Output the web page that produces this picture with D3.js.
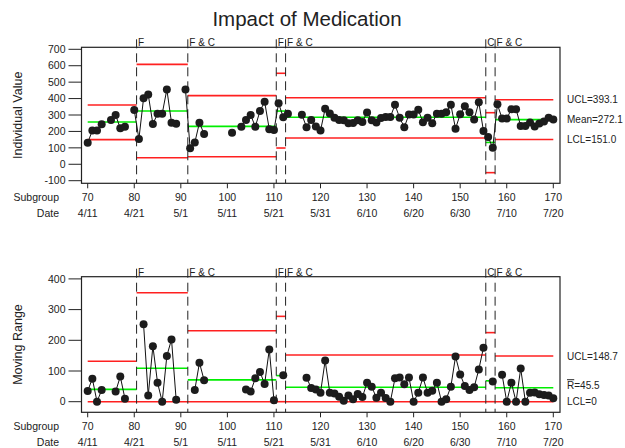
<!DOCTYPE html>
<html lang="en">
<head>
<meta charset="utf-8">
<script src="https://d3js.org/d3.v7.min.js"></script>
<style>
  body {margin:0; background:#fff;}
  text {font-family: "Liberation Sans", Arial, sans-serif; fill:#222;}
</style>
</head>
<body>
<script>

// subgroups 70..170, null where no observation
var subgroups = d3.range(70, 171);
var indValues = [
  131, 205, 205, 243, null, 269, 300, 219, 229, null,   // 70-79
  330, 154, 402, 425, 245, 307, 307, 456, 253, 247,     // 80-89
  null, 456, 97, 132, 253, 184, null, null, null, null, // 90-99
  null, 192, null, 229, 270, 300, 229, 324, 381, 213,   // 100-109
  208, 371, 286, 308, null, null, 302, 226, 270, 230,   // 110-119
  205, 338, 309, 283, 270, 268, 250, 252, 268, 258,     // 120-129
  315, 268, 255, 282, 288, 288, 362, 283, 226, 303,     // 130-139
  303, 332, 256, 283, 250, 308, 308, 316, 362, 217,     // 140-149
  304, 354, 317, 272, 378, 203, 166, 100, 365, 278,     // 150-159
  278, 335, 335, 233, 233, 255, 230, 248, 260, 283,     // 160-169
  272                                                   // 170
];
var mrValues = [
  35, 75, 0, 38, null, null, 33, 82, 10, null,          // 70-79
  null, null, 252, 20, 181, 62, 0, 149, 203, 6,         // 80-89
  null, null, null, 38, 127, 70, null, null, null, null,// 90-99
  null, null, null, null, 40, 33, 76, 97, 58, 170,      // 100-109
  5, null, 86, null, null, null, null, 78, 45, 40,      // 110-119
  29, 134, 29, 27, 16, 3, 20, 8, 25, 15,                // 120-129
  62, 49, 13, 29, 12, 0, 76, 79, 57, 79,                // 130-139
  0, 29, 79, 29, 36, 62, 0, 8, 49, 147,                 // 140-149
  89, 51, 38, 47, 105, 176, null, 66, null, 88,         // 150-159
  0, 62, 0, 108, 0, 29, 30, 24, 22, 20,                 // 160-169
  11                                                    // 170
];

// stages
var stageStart = [70, 80.5, 91.5, 110.5, 112.5, 155.5, 157.5];
var stageEnd   = [80.5, 91.5, 110.5, 112.5, 155.5, 157.5, 170];
var indMean = [257, 324, 231, 324, 286, 133, 272.1];
var indUCL  = [361, 608, 418, 554, 405, 314, 393.1];
var indLCL  = [150, 40, 46, 99, 160, -51, 151.0];
var mrMean  = [40, 109, 71, 85, 47, 68, 45.5];
var mrUCL   = [132, 355, 231, 278, 152, 225, 148.7];
var mrLCL   = [0, 0, 0, 0, 0, 0, 0];
var stageLabels = ["F", "F & C", "F", "F & C", "C", "F & C"];

var xTicks = [70, 80, 90, 100, 110, 120, 130, 140, 150, 160, 170];
var dateLabels = ["4/11", "4/21", "5/1", "5/11", "5/21", "5/31", "6/10", "6/20", "6/30", "7/10", "7/20"];
var indTicks = [-100, 0, 100, 200, 300, 400, 500, 600, 700];
var mrTicks = [0, 100, 200, 300, 400];

var width = 625, height = 448;
var boxLeft = 81.5, boxRight = 560;

var svg = d3.select("body").append("svg")
  .attr("width", width)
  .attr("height", height);

var x = d3.scaleLinear().domain([70, 170]).range([87.7, 553.3]);

svg.append("text")
  .attr("x", 307).attr("y", 26)
  .attr("text-anchor", "middle")
  .attr("font-size", 20.5)
  .text("Impact of Medication");

function drawChart(opt) {
  var g = svg.append("g");
  var y = opt.y;

  g.append("rect")
    .attr("x", boxLeft).attr("y", opt.top)
    .attr("width", boxRight - boxLeft).attr("height", opt.bottom - opt.top)
    .attr("fill", "none").attr("stroke", "#222").attr("stroke-width", 1.2);

  // y axis ticks
  opt.ticks.forEach(function(t) {
    g.append("line")
      .attr("x1", boxLeft - 13).attr("x2", boxLeft)
      .attr("y1", y(t)).attr("y2", y(t))
      .attr("stroke", "#222");
    g.append("text")
      .attr("x", boxLeft - 16).attr("y", y(t)).attr("dy", "0.35em")
      .attr("text-anchor", "end").attr("font-size", 10.5)
      .text(t);
  });

  g.append("text")
    .attr("transform", "translate(22," + ((opt.top + opt.bottom) / 2) + ") rotate(-90)")
    .attr("text-anchor", "middle").attr("font-size", 12.5)
    .text(opt.ylabel);

  // x ticks with subgroup and date rows
  xTicks.forEach(function(t, i) {
    g.append("line")
      .attr("x1", x(t)).attr("x2", x(t))
      .attr("y1", opt.bottom).attr("y2", opt.bottom + 5)
      .attr("stroke", "#222");
    g.append("text")
      .attr("x", x(t)).attr("y", opt.bottom + 17.5)
      .attr("text-anchor", "middle").attr("font-size", 10.5)
      .text(t);
    g.append("text")
      .attr("x", x(t)).attr("y", opt.bottom + 34)
      .attr("text-anchor", "middle").attr("font-size", 10.5)
      .text(dateLabels[i]);
  });
  g.append("text").attr("x", 59).attr("y", opt.bottom + 17.5)
    .attr("text-anchor", "end").attr("font-size", 10.5).text("Subgroup");
  g.append("text").attr("x", 59).attr("y", opt.bottom + 34)
    .attr("text-anchor", "end").attr("font-size", 10.5).text("Date");

  // stage limit lines
  stageStart.forEach(function(s, i) {
    [[opt.ucl[i], "#ff2020"], [opt.lcl[i], "#ff2020"], [opt.mean[i], "#00ee00"]].forEach(function(p) {
      g.append("line")
        .attr("x1", x(s)).attr("x2", x(stageEnd[i]))
        .attr("y1", y(p[0])).attr("y2", y(p[0]))
        .attr("stroke", p[1]).attr("stroke-width", 1.6);
    });
  });

  // stage boundaries
  stageStart.slice(1).forEach(function(s, i) {
    g.append("line")
      .attr("x1", x(s)).attr("x2", x(s))
      .attr("y1", opt.top - 8).attr("y2", opt.bottom)
      .attr("stroke", "#222").attr("stroke-dasharray", "9,5");
    g.append("text")
      .attr("x", x(s) + 1.5).attr("y", opt.top - 1)
      .attr("font-size", 10)
      .text(stageLabels[i]);
  });

  var pts = subgroups.map(function(s, i) { return {s: s, v: opt.values[i]}; });

  var line = d3.line()
    .defined(function(d) { return d.v !== null; })
    .x(function(d) { return x(d.s); })
    .y(function(d) { return y(d.v); });

  g.append("path").datum(pts)
    .attr("d", line)
    .attr("fill", "none").attr("stroke", "#111").attr("stroke-width", 1);

  g.selectAll("circle").data(pts.filter(function(d) { return d.v !== null; }))
    .enter().append("circle")
    .attr("cx", function(d) { return x(d.s); })
    .attr("cy", function(d) { return y(d.v); })
    .attr("r", 4)
    .attr("fill", "#1c1c1c");

  // right labels
  opt.rightLabels.forEach(function(l) {
    var t = g.append("text")
      .attr("x", 567).attr("y", l.y).attr("dy", "0.35em")
      .attr("font-size", 10);
    if (l.bar) {
      t.append("tspan").style("text-decoration", "overline").text("R");
      t.append("tspan").text(l.text);
    } else {
      t.text(l.text);
    }
  });
}

var yInd = d3.scaleLinear().domain([-100, 700]).range([180.7, 49.3]);
var yMR = d3.scaleLinear().domain([0, 400]).range([401.7, 278.9]);

drawChart({
  top: 47.3, bottom: 183.3, y: yInd, ticks: indTicks,
  ylabel: "Individual Value", values: indValues,
  mean: indMean, ucl: indUCL, lcl: indLCL,
  rightLabels: [
    {y: yInd(393.1), text: "UCL=393.1"},
    {y: yInd(272.1), text: "Mean=272.1"},
    {y: yInd(151.0), text: "LCL=151.0"}
  ]
});

drawChart({
  top: 276.7, bottom: 412.3, y: yMR, ticks: mrTicks,
  ylabel: "Moving Range", values: mrValues,
  mean: mrMean, ucl: mrUCL, lcl: mrLCL,
  rightLabels: [
    {y: yMR(148.7), text: "UCL=148.7"},
    {y: yMR(45.5) - 2, text: "=45.5", bar: true},
    {y: yMR(0), text: "LCL=0"}
  ]
});

</script>
</body>
</html>
